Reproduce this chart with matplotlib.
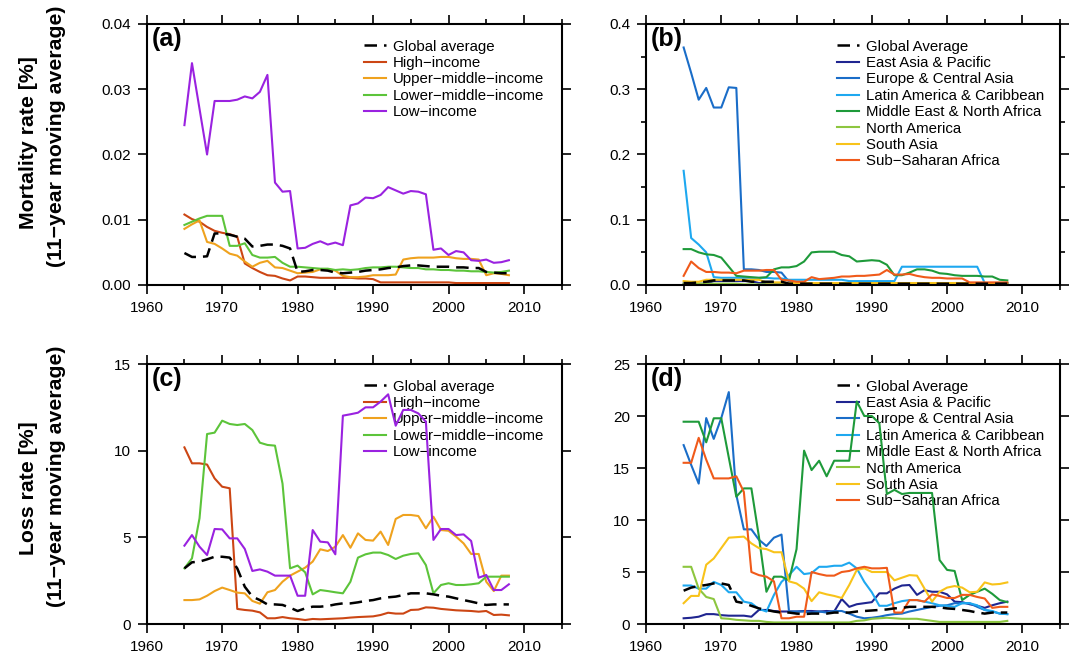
import matplotlib
matplotlib.use("Agg")
import matplotlib.pyplot as plt
import numpy as np
from matplotlib.ticker import MultipleLocator

plt.rcParams['font.family'] = ['Liberation Sans', 'DejaVu Sans']

years = list(range(1965, 2009))

# ---------------- Panel (a): mortality rate by income group ----------------
income_labels = ["Global average", "High\u2212income", "Upper\u2212middle\u2212income",
                 "Lower\u2212middle\u2212income", "Low\u2212income"]

a_global = [0.0049, 0.0043, 0.0043, 0.0044, 0.0079, 0.0079, 0.0077, 0.0074, 0.0071, 0.0059,
            0.0060, 0.0062, 0.0062, 0.0060, 0.0056, 0.0020, 0.0021, 0.0023, 0.0023, 0.0022,
            0.0019, 0.0018, 0.0019, 0.0020, 0.0022, 0.0023, 0.0024, 0.0026, 0.0027, 0.0029,
            0.0030, 0.0030, 0.0029, 0.0028, 0.0028, 0.0028, 0.0027, 0.0027, 0.0026, 0.0026,
            0.0020, 0.0019, 0.0018, 0.0018]
a_high = [0.0108, 0.0101, 0.0097, 0.0089, 0.0083, 0.0080, 0.0078, 0.0074, 0.0033, 0.0026,
          0.0020, 0.0015, 0.0014, 0.0010, 0.0007, 0.0013, 0.0013, 0.0012, 0.0011, 0.0011,
          0.0011, 0.0011, 0.0011, 0.0010, 0.0010, 0.0009, 0.0004, 0.0004, 0.0004, 0.0004,
          0.0004, 0.0004, 0.0004, 0.0004, 0.0004, 0.0004, 0.0003, 0.0003, 0.0003, 0.0003,
          0.0003, 0.0003, 0.0003, 0.0003]
a_upper = [0.0086, 0.0093, 0.0099, 0.0066, 0.0063, 0.0056, 0.0048, 0.0045, 0.0036, 0.0028,
           0.0034, 0.0037, 0.0027, 0.0026, 0.0022, 0.0018, 0.0019, 0.0020, 0.0024, 0.0024,
           0.0022, 0.0014, 0.0012, 0.0012, 0.0013, 0.0015, 0.0015, 0.0015, 0.0016, 0.0039,
           0.0041, 0.0042, 0.0042, 0.0042, 0.0043, 0.0043, 0.0041, 0.0040, 0.0040, 0.0039,
           0.0015, 0.0018, 0.0017, 0.0015]
a_lower = [0.0092, 0.0097, 0.0102, 0.0106, 0.0106, 0.0106, 0.0060, 0.0060, 0.0064, 0.0046,
           0.0042, 0.0042, 0.0043, 0.0034, 0.0028, 0.0028, 0.0027, 0.0026, 0.0025, 0.0025,
           0.0023, 0.0024, 0.0023, 0.0024, 0.0026, 0.0027, 0.0027, 0.0028, 0.0028, 0.0027,
           0.0026, 0.0026, 0.0024, 0.0024, 0.0023, 0.0023, 0.0022, 0.0022, 0.0021, 0.0021,
           0.0020, 0.0019, 0.0020, 0.0022]
a_low = [0.0245, 0.0340, 0.0270, 0.0200, 0.0282, 0.0282, 0.0282, 0.0284, 0.0289, 0.0286,
         0.0296, 0.0322, 0.0157, 0.0143, 0.0144, 0.0056, 0.0057, 0.0063, 0.0067, 0.0062,
         0.0065, 0.0061, 0.0122, 0.0125, 0.0134, 0.0133, 0.0138, 0.0150, 0.0145, 0.0140,
         0.0144, 0.0143, 0.0139, 0.0054, 0.0056, 0.0046, 0.0052, 0.0050, 0.0038, 0.0037,
         0.0039, 0.0034, 0.0035, 0.0038]

# ---------------- Panel (b): mortality rate by region ----------------
region_labels = ["Global Average", "East Asia & Pacific", "Europe & Central Asia",
                 "Latin America & Caribbean", "Middle East & North Africa",
                 "North America", "South Asia", "Sub\u2212Saharan Africa"]

b_global = [0.003, 0.003, 0.004, 0.005, 0.007, 0.007, 0.007, 0.007, 0.007, 0.005,
            0.005, 0.005, 0.005, 0.005, 0.002, 0.002, 0.002, 0.002, 0.002, 0.002,
            0.002, 0.002, 0.002, 0.002, 0.002, 0.002, 0.002, 0.002, 0.002, 0.002,
            0.002, 0.002, 0.002, 0.002, 0.002, 0.002, 0.002, 0.002, 0.002, 0.002,
            0.002, 0.002, 0.002, 0.002]
b_eap = [0.002, 0.002, 0.002, 0.002, 0.006, 0.006, 0.006, 0.006, 0.006, 0.006,
         0.003, 0.003, 0.003, 0.003, 0.003, 0.002, 0.002, 0.002, 0.002, 0.002,
         0.002, 0.002, 0.002, 0.002, 0.002, 0.002, 0.002, 0.002, 0.002, 0.002,
         0.002, 0.002, 0.002, 0.002, 0.002, 0.002, 0.002, 0.002, 0.002, 0.002,
         0.002, 0.002, 0.002, 0.002]
b_eca = [0.364, 0.325, 0.284, 0.302, 0.272, 0.272, 0.303, 0.302, 0.024, 0.024,
         0.023, 0.020, 0.020, 0.019, 0.005, 0.003, 0.003, 0.003, 0.003, 0.003,
         0.003, 0.003, 0.003, 0.003, 0.003, 0.003, 0.003, 0.003, 0.003, 0.003,
         0.003, 0.003, 0.003, 0.003, 0.003, 0.003, 0.003, 0.003, 0.003, 0.003,
         0.003, 0.003, 0.003, 0.003]
b_lac = [0.175, 0.072, 0.062, 0.050, 0.012, 0.011, 0.011, 0.011, 0.011, 0.011,
         0.011, 0.011, 0.010, 0.010, 0.008, 0.008, 0.008, 0.008, 0.008, 0.008,
         0.008, 0.008, 0.006, 0.006, 0.006, 0.006, 0.006, 0.006, 0.006, 0.028,
         0.028, 0.028, 0.028, 0.028, 0.028, 0.028, 0.028, 0.028, 0.028, 0.028,
         0.003, 0.003, 0.003, 0.003]
b_mena = [0.055, 0.055, 0.050, 0.047, 0.046, 0.042, 0.028, 0.014, 0.013, 0.012,
          0.011, 0.012, 0.024, 0.027, 0.027, 0.029, 0.036, 0.050, 0.051, 0.051,
          0.051, 0.046, 0.044, 0.036, 0.037, 0.038, 0.037, 0.031, 0.015, 0.015,
          0.019, 0.024, 0.024, 0.022, 0.018, 0.017, 0.015, 0.014, 0.014, 0.014,
          0.013, 0.013, 0.008, 0.007]
b_na = [0.002, 0.002, 0.002, 0.002, 0.002, 0.002, 0.002, 0.002, 0.001, 0.001,
        0.001, 0.001, 0.001, 0.001, 0.001, 0.001, 0.001, 0.001, 0.001, 0.001,
        0.001, 0.001, 0.001, 0.001, 0.001, 0.001, 0.001, 0.001, 0.001, 0.001,
        0.001, 0.001, 0.001, 0.001, 0.001, 0.001, 0.001, 0.001, 0.001, 0.001,
        0.001, 0.001, 0.001, 0.001]
b_sa = [0.006, 0.005, 0.005, 0.008, 0.008, 0.008, 0.008, 0.008, 0.008, 0.008,
        0.008, 0.004, 0.004, 0.004, 0.003, 0.003, 0.003, 0.003, 0.003, 0.003,
        0.003, 0.003, 0.003, 0.003, 0.003, 0.003, 0.003, 0.003, 0.003, 0.003,
        0.003, 0.003, 0.003, 0.003, 0.003, 0.003, 0.003, 0.003, 0.003, 0.003,
        0.003, 0.003, 0.003, 0.003]
b_ssa = [0.014, 0.036, 0.026, 0.020, 0.020, 0.019, 0.019, 0.018, 0.022, 0.022,
         0.022, 0.023, 0.023, 0.008, 0.007, 0.005, 0.005, 0.012, 0.009, 0.010,
         0.011, 0.013, 0.013, 0.014, 0.014, 0.015, 0.016, 0.023, 0.016, 0.016,
         0.017, 0.014, 0.012, 0.011, 0.011, 0.010, 0.010, 0.010, 0.004, 0.004,
         0.004, 0.004, 0.004, 0.004]

# ---------------- Panel (c): loss rate by income group ----------------
c_global = [3.21, 3.56, 3.60, 3.73, 3.88, 3.88, 3.83, 3.21, 2.15, 1.58,
            1.38, 1.13, 1.13, 1.10, 0.94, 0.75, 0.90, 1.00, 1.00, 1.04,
            1.13, 1.19, 1.19, 1.25, 1.33, 1.38, 1.48, 1.54, 1.58, 1.67,
            1.77, 1.77, 1.77, 1.71, 1.63, 1.58, 1.48, 1.38, 1.29, 1.19,
            1.10, 1.13, 1.13, 1.13]
c_high = [10.19, 9.27, 9.27, 9.20, 8.40, 7.92, 7.83, 0.87, 0.81, 0.77,
          0.67, 0.33, 0.33, 0.40, 0.33, 0.29, 0.23, 0.29, 0.27, 0.29,
          0.31, 0.33, 0.37, 0.40, 0.42, 0.44, 0.52, 0.65, 0.60, 0.60,
          0.81, 0.83, 0.96, 0.94, 0.87, 0.83, 0.79, 0.77, 0.75, 0.71,
          0.75, 0.52, 0.54, 0.50]
c_upper = [1.38, 1.38, 1.42, 1.63, 1.90, 2.10, 1.96, 1.81, 1.77, 1.33,
           1.17, 1.83, 1.96, 2.44, 2.79, 3.02, 3.25, 3.60, 4.31, 4.21,
           4.46, 5.13, 4.40, 5.23, 4.85, 4.81, 5.33, 4.56, 6.06, 6.29,
           6.29, 6.23, 5.52, 6.19, 5.42, 5.38, 5.04, 4.65, 4.04, 4.04,
           2.44, 1.90, 2.79, 2.79]
c_lower = [3.21, 3.79, 6.10, 10.96, 11.04, 11.73, 11.54, 11.48, 11.54, 11.19,
           10.46, 10.33, 10.29, 8.10, 3.21, 3.37, 2.98, 1.71, 1.96, 1.90,
           1.83, 1.77, 2.44, 3.83, 4.02, 4.12, 4.12, 3.98, 3.75, 3.94,
           4.04, 4.08, 3.40, 1.77, 2.25, 2.35, 2.25, 2.25, 2.29, 2.35,
           2.73, 2.73, 2.73, 2.73]
c_low = [4.52, 5.13, 4.46, 3.98, 5.48, 5.46, 4.94, 4.94, 4.33, 3.06,
         3.15, 3.02, 2.79, 2.79, 2.79, 1.63, 1.63, 5.42, 4.75, 4.71,
         4.02, 12.02, 12.10, 12.19, 12.50, 12.50, 12.83, 13.25, 11.44, 12.35,
         12.35, 12.15, 11.67, 4.85, 5.48, 5.48, 5.13, 5.17, 4.79, 2.67,
         2.83, 1.96, 1.96, 2.29]

# ---------------- Panel (d): loss rate by region ----------------
d_global = [3.20, 3.50, 3.65, 3.75, 3.90, 3.90, 3.75, 2.15, 2.00, 1.75,
            1.50, 1.35, 1.20, 1.10, 1.10, 1.00, 0.95, 1.00, 1.00, 1.00,
            1.10, 1.10, 1.10, 1.20, 1.25, 1.30, 1.35, 1.40, 1.50, 1.55,
            1.65, 1.65, 1.65, 1.65, 1.60, 1.50, 1.45, 1.35, 1.25, 1.10,
            1.00, 1.10, 1.10, 1.10]
d_eap = [0.55, 0.60, 0.70, 0.95, 0.95, 0.85, 0.80, 0.80, 0.80, 0.70,
         1.35, 1.35, 1.25, 1.20, 1.20, 1.20, 1.25, 1.25, 1.20, 1.25,
         1.20, 2.40, 1.65, 1.90, 2.00, 2.10, 2.95, 2.95, 3.40, 3.70,
         3.75, 2.80, 3.25, 3.10, 3.10, 2.85, 2.15, 2.10, 1.90, 1.75,
         1.55, 1.80, 2.00, 2.15]
d_eca = [17.2, 15.3, 13.5, 19.8, 17.8, 19.8, 22.3, 12.4, 9.1, 9.1,
         8.1, 7.5, 8.3, 8.6, 1.2, 1.2, 1.2, 1.1, 1.2, 1.1,
         1.25, 1.25, 1.0, 0.7, 0.55, 0.6, 0.7, 0.85, 0.95, 1.0,
         1.2, 1.35, 1.5, 1.65, 1.75, 1.8, 2.0, 2.0, 2.0, 1.65,
         1.35, 1.2, 1.0, 0.95]
d_lac = [3.70, 3.70, 3.40, 3.40, 4.05, 3.75, 3.05, 3.05, 2.15, 2.00,
         1.45, 1.20, 2.80, 4.05, 4.70, 5.50, 4.80, 4.90, 5.50, 5.50,
         5.60, 5.60, 5.90, 5.35, 4.05, 3.05, 1.75, 1.75, 2.00, 2.20,
         2.30, 2.30, 2.15, 2.00, 1.80, 1.75, 1.65, 2.00, 2.00, 1.80,
         1.35, 1.25, 1.00, 0.95]
d_mena = [19.45, 19.45, 19.45, 17.47, 19.78, 19.78, 16.0, 12.24, 13.04, 13.04,
          8.4, 3.1, 4.55, 4.55, 4.2, 7.2, 16.67, 14.8, 15.7, 14.2,
          15.7, 15.7, 15.7, 21.4, 20.0, 20.0, 19.3, 12.5, 12.9, 12.5,
          12.6, 12.6, 12.6, 12.6, 6.15, 5.2, 5.1, 2.3, 2.8, 3.1,
          3.4, 2.9, 2.3, 2.1]
d_na = [5.5, 5.5, 3.4, 2.6, 2.4, 0.55, 0.5, 0.4, 0.35, 0.3,
        0.3, 0.2, 0.15, 0.15, 0.15, 0.15, 0.15, 0.15, 0.15, 0.15,
        0.15, 0.15, 0.15, 0.3, 0.35, 0.5, 0.55, 0.6, 0.55, 0.5,
        0.5, 0.5, 0.4, 0.3, 0.2, 0.2, 0.2, 0.2, 0.2, 0.2,
        0.2, 0.2, 0.2, 0.3]
d_sa = [2.0, 2.7, 2.7, 5.7, 6.3, 7.3, 8.3, 8.35, 8.4, 7.75,
        7.3, 7.2, 6.9, 6.9, 4.1, 3.9, 3.4, 2.2, 3.05, 2.85,
        2.7, 2.5, 3.75, 5.2, 5.35, 5.0, 5.0, 5.0, 4.2, 4.45,
        4.7, 4.65, 3.4, 2.15, 3.1, 3.5, 3.65, 3.5, 3.05, 3.1,
        4.0, 3.8, 3.85, 4.0]
d_ssa = [15.5, 15.5, 17.9, 15.8, 14.0, 14.0, 14.0, 14.2, 12.7, 5.0,
         4.7, 4.55, 4.1, 0.55, 0.55, 0.7, 0.7, 5.0, 4.8, 4.65,
         4.65, 5.0, 5.1, 5.35, 5.5, 5.35, 5.35, 5.4, 1.1, 1.1,
         2.3, 2.3, 2.15, 2.85, 2.7, 2.5, 2.5, 2.8, 2.8, 2.6,
         2.45, 1.55, 1.65, 1.65]

income_colors = ["black", "#CC4614", "#EFA21E", "#5CC43A", "#9A22E0"]
region_colors = ["black", "#1F2590", "#1A6DC8", "#1EA8F0", "#1E9A3A",
                 "#8DC63F", "#F8C31A", "#F05A1A"]

fig = plt.figure(figsize=(10.78, 6.61), dpi=100)
W, H = 1078.0, 661.0

def make_ax(l, r, t, b):
    return fig.add_axes([l / W, (H - b) / H, (r - l) / W, (b - t) / H])

ax_a = make_ax(146.7, 561.7, 24, 285)
ax_b = make_ax(646, 1060, 24, 285)
ax_c = make_ax(146.7, 561.7, 364, 624)
ax_d = make_ax(646, 1060, 364, 624)

def draw(ax, series, labels, colors, ylim, ymajor, yminor, fmt, letter, leg_x):
    for i, (vals, lab, col) in enumerate(zip(series, labels, colors)):
        if i == 0:
            ax.plot(years, vals, color=col, lw=1.8, dashes=(5.0, 2.8), label=lab, zorder=3)
        else:
            ax.plot(years, vals, color=col, lw=1.5, label=lab, zorder=2)
    ax.set_xlim(1960, 2015)
    ax.set_ylim(*ylim)
    ax.xaxis.set_major_locator(MultipleLocator(10))
    ax.xaxis.set_minor_locator(MultipleLocator(5))
    ax.yaxis.set_major_locator(MultipleLocator(ymajor))
    if yminor:
        ax.yaxis.set_minor_locator(MultipleLocator(yminor))
    ax.yaxis.set_major_formatter(plt.FormatStrFormatter(fmt))
    ax.tick_params(which='both', direction='out', top=True, right=True,
                   labeltop=False, labelright=False, width=1.2, labelsize=11)
    ax.tick_params(which='major', length=6.5, pad=5)
    ax.tick_params(which='minor', length=3.5)
    for sp in ax.spines.values():
        sp.set_linewidth(1.5)
    ax.text(0.012, 0.99, letter, transform=ax.transAxes, ha='left', va='top',
            fontsize=18, fontweight='bold', zorder=6)
    leg = ax.legend(loc='upper left', bbox_to_anchor=(leg_x, 0.94), frameon=False,
                    fontsize=10.8, handlelength=1.5, handletextpad=0.45,
                    labelspacing=0.16, borderpad=0, borderaxespad=0)
    leg.set_zorder(1)

draw(ax_a, [a_global, a_high, a_upper, a_lower, a_low], income_labels, income_colors,
     (0, 0.04), 0.01, None, '%.2f', '(a)', 0.523)
draw(ax_b, [b_global, b_eap, b_eca, b_lac, b_mena, b_na, b_sa, b_ssa], region_labels,
     region_colors, (0, 0.4), 0.1, 0.05, '%.1f', '(b)', 0.461)
draw(ax_c, [c_global, c_high, c_upper, c_lower, c_low], income_labels, income_colors,
     (0, 15), 5, None, '%d', '(c)', 0.523)
draw(ax_d, [d_global, d_eap, d_eca, d_lac, d_mena, d_na, d_sa, d_ssa], region_labels,
     region_colors, (0, 25), 5, None, '%d', '(d)', 0.461)

ylab_kw = dict(rotation=90, ha='center', va='center', fontsize=15.3, fontweight='bold')
fig.text(29 / W, 1 - 143 / H, "Mortality rate [%]", **ylab_kw)
fig.text(56 / W, 1 - 136 / H, "(11\u2212year moving average)", **ylab_kw)
fig.text(29 / W, 1 - 488 / H, "Loss rate [%]", **ylab_kw)
fig.text(56 / W, 1 - 476 / H, "(11\u2212year moving average)", **ylab_kw)

fig.savefig("out.png", dpi=100)
